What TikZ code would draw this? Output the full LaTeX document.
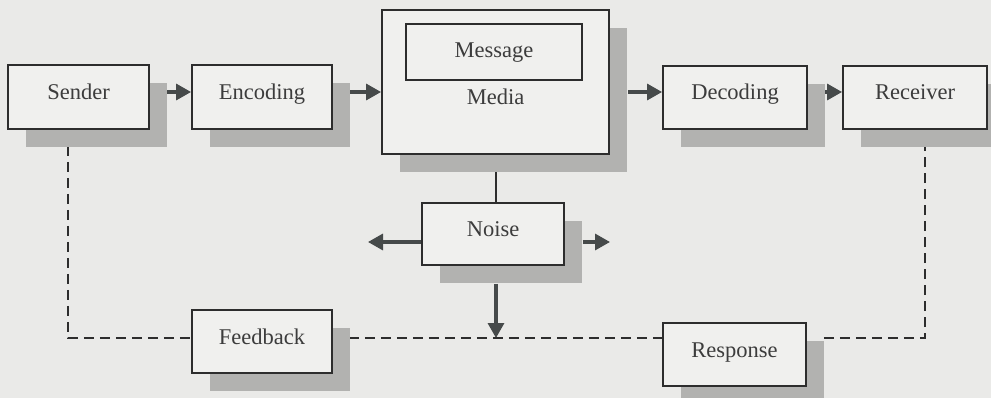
\documentclass[tikz,border=0pt]{standalone}
\usepackage{fontspec}
\setmainfont{Liberation Serif}
\usetikzlibrary{arrows.meta,shadows,calc}
\definecolor{bgc}{RGB}{234,234,232}
\definecolor{boxc}{RGB}{240,240,238}
\definecolor{shc}{RGB}{178,178,176}
\definecolor{linec}{RGB}{45,45,45}
\definecolor{textc}{RGB}{60,60,60}
\definecolor{arrc}{RGB}{70,74,74}
\pgfdeclarelayer{lines}
\pgfsetlayers{lines,main}
\begin{document}
\begin{tikzpicture}[x=1pt,y=-1pt,
  box/.style={draw=linec, line width=1.8pt, fill=boxc, text=textc,
    font=\fontsize{22.5}{27}\selectfont, inner sep=0pt, text height=16pt, text depth=11pt},
  shbox/.style={box, general shadow={fill=shc, shadow xshift=18pt, shadow yshift=-18pt}},
  arr/.style={draw=arrc, line width=3.2pt, -{Triangle[length=15pt,width=16pt]}},
  plain/.style={draw=linec, line width=2.4pt},
  fb/.style={draw=linec, line width=2.8pt, dash pattern=on 10pt off 6pt},
  lbl/.style={text=textc, font=\fontsize{22.5}{27}\selectfont, inner sep=0pt}
]
\useasboundingbox (0,0) rectangle (991,398);
\clip (0,0) rectangle (991,398);
\begin{pgfonlayer}{lines}
\fill[bgc] (0,0) rectangle (991,398);
\end{pgfonlayer}

% nodes
\node[shbox, minimum width=141pt, minimum height=64pt] (sender) at (78.5,97) {Sender};
\node[shbox, minimum width=140pt, minimum height=64pt] (encoding) at (262,97) {Encoding};
\node[shbox, minimum width=227pt, minimum height=144pt] (media) at (495.5,82) {};
\node[box, minimum width=176pt, minimum height=56pt, text depth=5pt] (message) at (494,52) {Message};
\node[lbl] (medialbl) at (495.5,97) {Media};
\node[shbox, minimum width=144pt, minimum height=63pt] (decoding) at (735,97.5) {Decoding};
\node[shbox, minimum width=144pt, minimum height=63pt] (receiver) at (915,97.5) {Receiver};
\node[shbox, minimum width=142pt, minimum height=62pt] (noise) at (493,234) {Noise};
\node[shbox, minimum width=140pt, minimum height=63pt] (feedback) at (262,341.5) {Feedback};
\node[shbox, minimum width=143pt, minimum height=63pt] (response) at (734.5,354.5) {Response};

\coordinate (r) at (0,92);
\coordinate (n) at (0,242);
\coordinate (nl) at (368,242);
\coordinate (nr) at (610,242);
\coordinate (c1) at (68,338);
\coordinate (c2) at (925,338);
\coordinate (mid) at (496,338);

\begin{pgfonlayer}{lines}
\draw[arr] ($(sender.east |- r)+(17,0)$) -- (encoding.west |- r);
\draw[arr] ($(encoding.east |- r)+(16,0)$) -- (media.west |- r);
\draw[arr] ($(media.east |- r)+(18,0)$) -- (decoding.west |- r);
\draw[arr] ($(decoding.east |- r)+(16,0)$) -- (receiver.west |- r);
\draw[plain] (mid |- media.south) -- (mid |- noise.north);
\draw[arr] (noise.west |- n) -- (nl);
\draw[arr] ($(noise.east |- n)+(18,0)$) -- (nr);
\draw[arr] ($(mid |- noise.south)+(0,18)$) -- (mid);
\draw[fb] (c1 |- sender.south) -- (c1) -- (c1 -| feedback.west);
\draw[fb] ($(c1 -| feedback.east)+(16,0)$) -- (c1 -| response.west);
\draw[fb] ($(c2 -| response.east)+(17,0)$) -- (c2) -- (c2 |- receiver.south);
\end{pgfonlayer}
\end{tikzpicture}
\end{document}
